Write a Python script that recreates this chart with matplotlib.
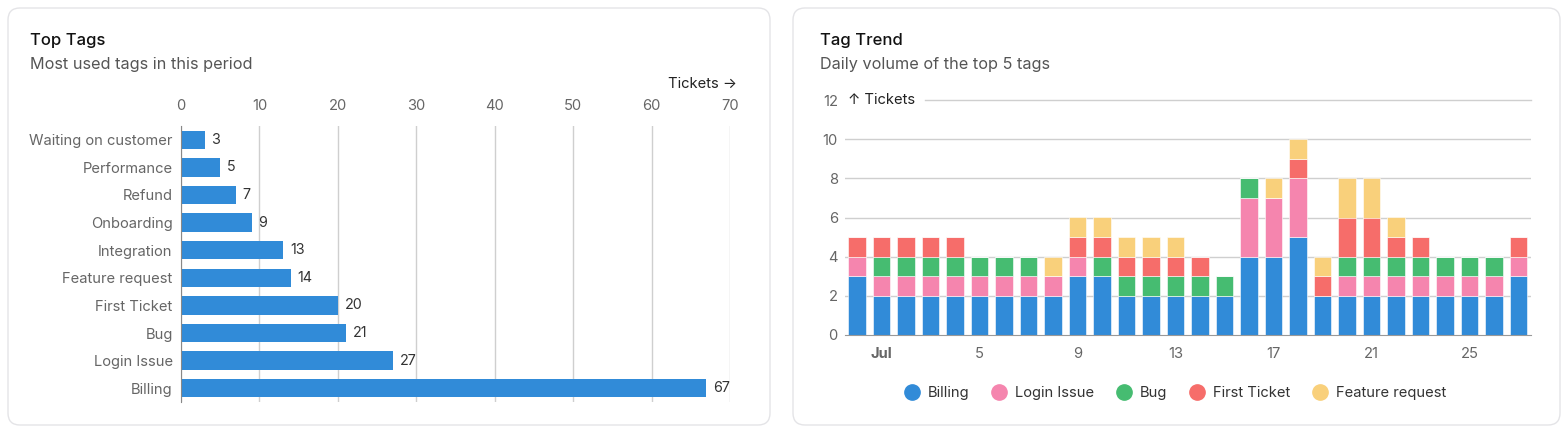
import matplotlib.pyplot as plt
from matplotlib.patches import FancyBboxPatch
from matplotlib.lines import Line2D
import numpy as np

plt.rcParams['font.family'] = ['Inter', 'DejaVu Sans']

# top tags
tags = ['Waiting on customer', 'Performance', 'Refund', 'Onboarding', 'Integration',
        'Feature request', 'First Ticket', 'Bug', 'Login Issue', 'Billing']
counts = [3, 5, 7, 9, 13, 14, 20, 21, 27, 67]
top_ticks = [0, 10, 20, 30, 40, 50, 60, 70]

# tag trend, Jun 30 .. Jul 27
day_labels = ['Jul', '5', '9', '13', '17', '21', '25']
day_label_pos = [1, 5, 9, 13, 17, 21, 25]
series_names = ['Billing', 'Login Issue', 'Bug', 'First Ticket', 'Feature request']
billing = [3, 2, 2, 2, 2, 2, 2, 2, 2, 3, 3, 2, 2, 2, 2, 2, 4, 4, 5, 2, 2, 2, 2, 2, 2, 2, 2, 3]
login = [1, 1, 1, 1, 1, 1, 1, 1, 1, 1, 0, 0, 0, 0, 0, 0, 3, 3, 3, 0, 1, 1, 1, 1, 1, 1, 1, 1]
bug = [0, 1, 1, 1, 1, 1, 1, 1, 0, 0, 1, 1, 1, 1, 1, 1, 1, 0, 0, 0, 1, 1, 1, 1, 1, 1, 1, 0]
first = [1, 1, 1, 1, 1, 0, 0, 0, 0, 1, 1, 1, 1, 1, 1, 0, 0, 0, 1, 1, 2, 2, 1, 1, 0, 0, 0, 1]
feature = [0, 0, 0, 0, 0, 0, 0, 0, 1, 1, 1, 1, 1, 1, 0, 0, 0, 1, 1, 1, 2, 2, 1, 0, 0, 0, 0, 0]
y_ticks = [0, 2, 4, 6, 8, 10, 12]

colors = ['#318BD8', '#F585AE', '#46BC71', '#F66D6A', '#F9D07B']

W, H = 1568, 433
fig = plt.figure(figsize=(W / 100, H / 100), dpi=100)

def px(x, y):
    return x / W, 1 - y / H

# panel frames
for x0, x1 in [(8, 770), (793, 1560)]:
    fig.patches.append(FancyBboxPatch(px(x0, 425), (x1 - x0) / W, 417 / H,
                                      boxstyle='round,pad=0,rounding_size=%f' % (12 / W),
                                      mutation_aspect=W / H, zorder=-5,
                                      transform=fig.transFigure, facecolor='white',
                                      edgecolor='#E4E4E7', linewidth=1.0))

fig.text(*px(30, 40), 'Top Tags', fontsize=12, color='#111111', va='center', fontweight='medium')
fig.text(*px(30, 65), 'Most used tags in this period', fontsize=11.7, color='#555555', va='center')
fig.text(*px(820, 40), 'Tag Trend', fontsize=12, color='#111111', va='center', fontweight='medium')
fig.text(*px(820, 65), 'Daily volume of the top 5 tags', fontsize=11.7, color='#555555', va='center')

tick_fs = 10.6

# left chart
ax1 = fig.add_axes([181 / W, 1 - 402 / H, 549 / W, 276 / H])
ax1.patch.set_alpha(0)
yy = np.arange(len(tags))
ax1.barh(yy, counts, height=0.66, color=colors[0], zorder=3)
for y, c in zip(yy, counts):
    ax1.annotate(str(c), (c, y), xytext=(5, 0), textcoords='offset points',
                 va='center', ha='left', fontsize=10.3, color='#333333')
ax1.set_xlim(0, 70)
ax1.set_ylim(len(tags) - 0.5, -0.5)
ax1.set_xticks(top_ticks)
ax1.xaxis.tick_top()
ax1.set_yticks(yy)
ax1.set_yticklabels(tags)
ax1.tick_params(axis='both', length=0, labelsize=tick_fs, colors='#666666')
ax1.tick_params(axis='x', pad=9)
ax1.tick_params(axis='y', pad=6)
ax1.grid(axis='x', color='#CFCFCF', linewidth=1, zorder=0)
for s in ['top', 'right', 'bottom']:
    ax1.spines[s].set_visible(False)
ax1.spines['left'].set_color('#888888')
ax1.spines['left'].set_zorder(4)
fig.text(*px(737, 84), 'Tickets →', fontsize=tick_fs, color='#222222', va='center', ha='right')

# right chart
ax2 = fig.add_axes([844.75 / W, 1 - 335 / H, 686 / W, 235 / H])
ax2.patch.set_alpha(0)
x = np.arange(len(billing))
bottom = np.zeros(len(billing))
for name, vals, col in zip(series_names, [billing, login, bug, first, feature], colors):
    ax2.bar(x, vals, bottom=bottom, width=0.7, color=col, edgecolor='white',
            linewidth=0.4, zorder=3, label=name)
    bottom += np.array(vals)
ax2.set_xlim(-0.5, len(billing) - 0.5)
ax2.set_ylim(0, 12)
ax2.set_yticks(y_ticks)
ax2.set_xticks(day_label_pos)
ax2.set_xticklabels(day_labels)
ax2.get_xticklabels()[0].set_fontweight('bold')
ax2.tick_params(axis='both', length=0, labelsize=tick_fs, colors='#666666')
ax2.tick_params(axis='x', pad=9)
ax2.tick_params(axis='y', pad=5)
for yt in y_ticks[1:-1]:
    ax2.axhline(yt, color='#CFCFCF', linewidth=1, zorder=0)
ax2.axhline(12, xmin=80 / 686, color='#CFCFCF', linewidth=1, zorder=0, clip_on=False)
for s in ['top', 'right', 'left']:
    ax2.spines[s].set_visible(False)
ax2.spines['bottom'].set_color('#999999')
ax2.spines['bottom'].set_zorder(4)
fig.text(*px(848, 100), '↑ Tickets', fontsize=tick_fs, color='#222222', va='center', ha='left')

handles = [Line2D([], [], marker='o', linestyle='', markersize=11, color=c) for c in colors]
fig.legend(handles, series_names, loc='center', bbox_to_anchor=px(1174, 393), ncol=5,
           frameon=False, fontsize=tick_fs, handletextpad=0.4, columnspacing=1.3,
           handlelength=1.4, labelcolor='#333333')

fig.savefig('out.png', dpi=100)
